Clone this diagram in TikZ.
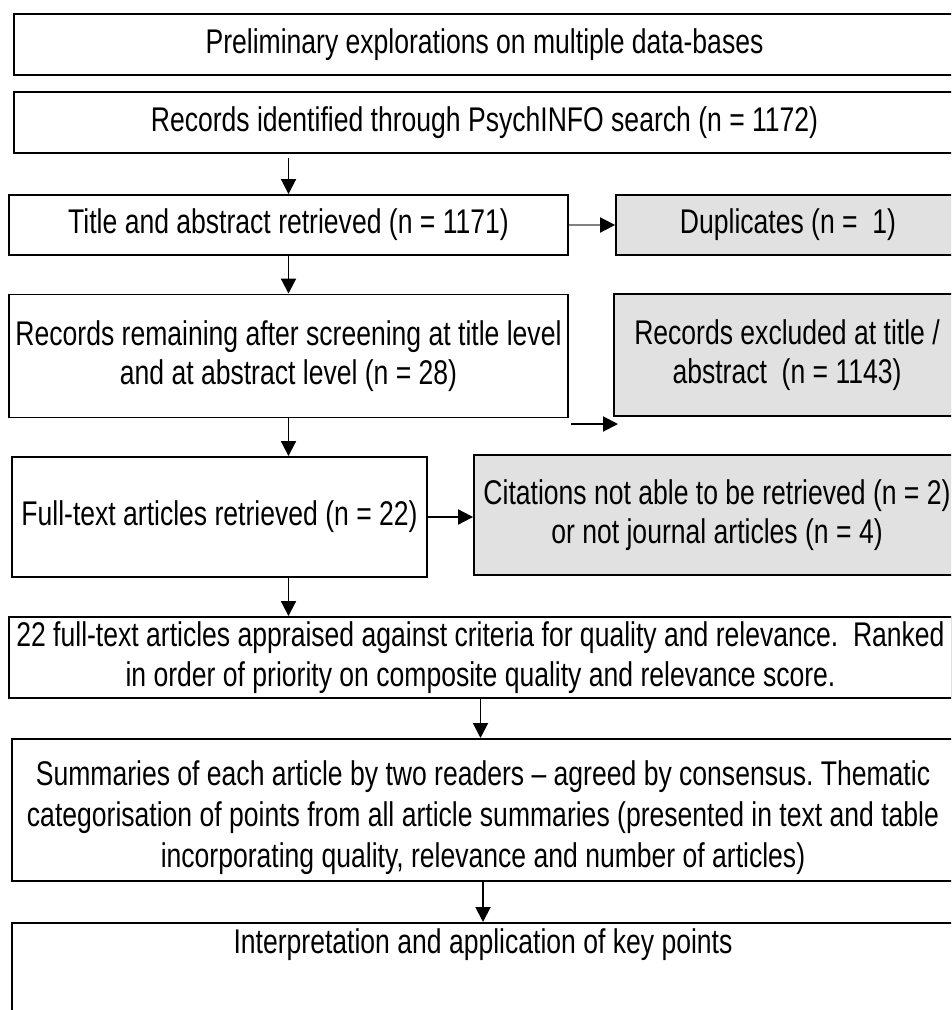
\documentclass[tikz,border=0pt]{standalone}
\usepackage{fontspec}
\setmainfont{Liberation Sans}[FakeStretch=0.775]
\usepackage{xcolor}
\definecolor{dropgray}{RGB}{225,225,225}
\usepackage{tikz}
\usetikzlibrary{arrows.meta,positioning}
\frenchspacing

\begin{document}
\begin{tikzpicture}[
  x=0.02cm, y=-0.02cm,
  every node/.style={font=\fontsize{19.5}{22.5}\selectfont},
  flowbox/.style={draw,line width=1.1pt,fill=white,align=center,inner sep=2pt},
  dropbox/.style={flowbox,fill=dropgray},
  arr/.style={line width=1.1pt,-{Triangle[length=0.3cm,width=0.3cm,color=black]}},
]
  \useasboundingbox (0,0) rectangle (951,1010);
  \clip (0,0) rectangle (951,1010);

  % Search
  \node[flowbox,minimum width=18.82cm,minimum height=1.22cm] (prelim) at (484.5,44.5)
    {Preliminary explorations on multiple data-bases};
  \node[flowbox,minimum width=18.82cm,minimum height=1.22cm] (ident) at (484.5,122.5)
    {Records identified through PsychINFO search (n = 1172)};

  % Screening
  \node[flowbox,minimum width=11.18cm,minimum height=1.2cm] (title) at (288.5,225)
    {Title and abstract retrieved (n = 1171)};
  \node[dropbox,minimum width=6.88cm,minimum height=1.2cm] (dup) at (788,225)
    {Duplicates (n = \ 1)};
  \node[flowbox,minimum width=11.18cm,minimum height=2.46cm] (remain) at (288.5,356)
    {Records remaining after screening at title level\\and at abstract level (n = 28)};
  \node[dropbox,minimum width=6.92cm,minimum height=2.44cm] (excl) at (787,355)
    {Records excluded at title /\\abstract \ (n = 1143)};

  % Eligibility
  \node[flowbox,minimum width=8.3cm,minimum height=2.4cm] (fulltext) at (219.5,517)
    {Full-text articles retrieved (n = 22)};
  \node[dropbox,minimum width=9.72cm,minimum height=2.4cm] (cite) at (717,515)
    {Citations not able to be retrieved (n = 2)\\or not journal articles (n = 4)};

  % Synthesis
  \node[flowbox,minimum width=18.86cm,minimum height=1.62cm] (appraised) at (480.5,657.5)
    {22 full-text articles appraised against criteria for quality and relevance. \ Ranked\\
     in order of priority on composite quality and relevance score.};
  \node[flowbox,minimum width=18.84cm,anchor=north,inner ysep=0pt,
        text height=2.58cm,text depth=0.26cm,
        font=\fontsize{19.5}{23.5}\selectfont] (summ) at (483,738)
    {Summaries of each article by two readers -- agreed by consensus. Thematic\\
     categorisation of points from all article summaries (presented in text and table\\
     incorporating quality, relevance and number of articles)};
  \node[flowbox,minimum width=18.84cm,anchor=north,inner ysep=0.12cm,
        text height=0.5cm,text depth=1.8cm] (interp) at (483,922)
    {Interpretation and application of key points};

  \coordinate (exfrom) at (571,424);
  \coordinate (exto) at (618,424);

  % Arrows
  \draw[arr,shorten <=0.08cm] (ident.south -| title.north) -- (title.north);
  \draw[arr,draw=gray] (title.east) -- (dup.west);
  \draw[arr] (title.south) -- (remain.north);
  \draw[arr] (exfrom) -- (exto);
  \draw[arr] (remain.south) -- (remain.south |- fulltext.north);
  \draw[arr] (fulltext.east) -- (fulltext.east -| cite.west);
  \draw[arr] (fulltext.south -| remain.south) -- (appraised.north -| remain.south);
  \draw[arr] (appraised.south) -- (appraised.south |- summ.north);
  \draw[arr] (summ.south) -- (summ.south |- interp.north);
\end{tikzpicture}
\end{document}
